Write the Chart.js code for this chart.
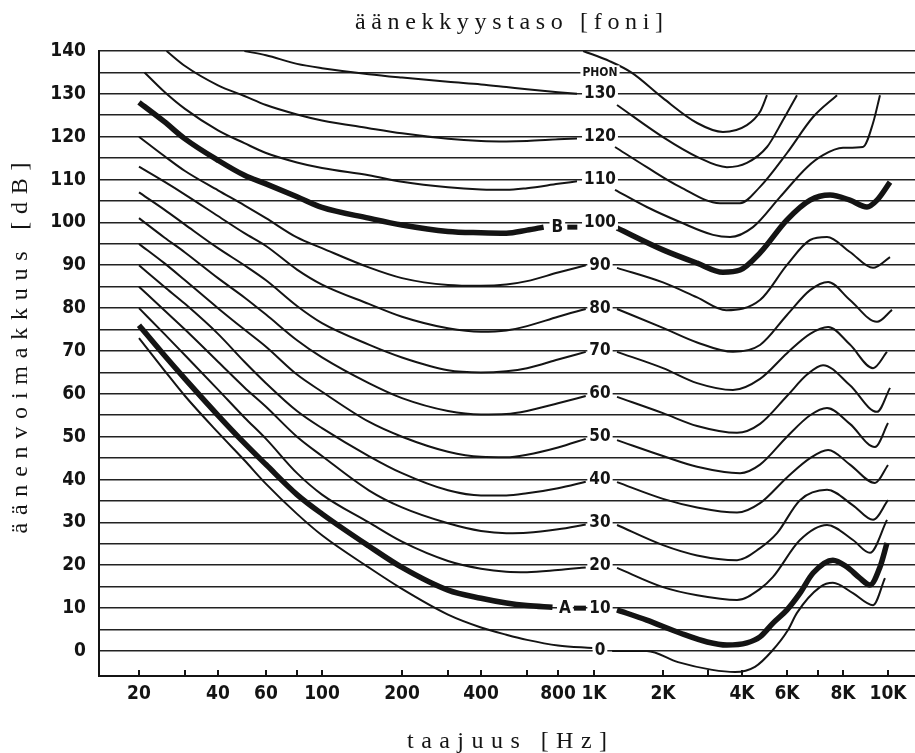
<!DOCTYPE html>
<html>
<head>
<meta charset="utf-8">
<script src="https://cdn.jsdelivr.net/npm/chart.js@4.4.1/dist/chart.umd.min.js"></script>
<style>
  html, body { margin: 0; padding: 0; background: #fff; }
  #wrap { width: 915px; height: 753px; }
</style>
</head>
<body>
<div id="wrap"><canvas id="graph" width="915" height="753"></canvas></div>
<script>
// printed frequency scale of the original drawing (not evenly logarithmic)
const CAL_HZ = [20, 30, 40, 60, 80, 100, 200, 300, 400, 600, 800, 1000, 2000, 3000, 4000, 6000, 7000, 8000, 10000];
const CAL_POS = [40, 86, 119, 167, 198, 223, 303, 349, 382, 428, 459, 495, 564, 609, 643, 688, 719, 744, 789];
const TICK_TEXT = ['20', '', '40', '60', '', '100', '200', '', '400', '', '800', '1K', '2K', '', '4K', '6K', '', '8K', '10K'];

const DB_TICKS = [0, 5, 10, 15, 20, 25, 30, 35, 40, 45, 50, 55, 60, 65, 70, 75, 80, 85, 90, 95, 100, 105, 110, 115, 120, 125, 130, 135, 140];
const PHON_LEVELS = [0, 10, 20, 30, 40, 50, 60, 70, 80, 90, 100, 110, 120, 130];

// [Hz, dB] ; [1100, null] splits the part left of the labels from the right part
const P0 = [[20, 73], [25, 65.5], [30, 59.5], [40, 51], [50, 44.5], [60, 39], [80, 32], [100, 27], [150, 19.5], [200, 14.5], [300, 8.5], [400, 5.5], [500, 3.8], [600, 2.6], [800, 1.3], [990, 0.7],
  [1100, null], [1200, 0], [1700, 0], [2290, -2.6], [3110, -4.4], [3770, -4.9], [4495, -3.7], [5240, 0], [6030, 4.9], [6305, 8.9], [7075, 14.9], [7580, 15.9], [8405, 13.5], [9285, 10.7], [9850, 17]];
const P10_A = [[20, 76], [25, 69], [30, 63.5], [40, 55], [50, 48.5], [60, 43.5], [80, 36.5], [100, 32], [150, 24.5], [200, 19.5], [300, 14.2], [400, 12.3], [500, 11.2], [600, 10.6], [760, 10.2],
  [1100, null], [1260, 9.6], [1700, 7.2], [2330, 4.2], [2980, 2.1], [3520, 1.4], [4180, 1.9], [4705, 3.3], [5290, 6.5], [6000, 9.6], [6400, 13.5], [6830, 18.2], [7580, 21.2], [8160, 19.6], [8700, 17], [9145, 15.4], [9610, 19.6], [9950, 25.2]];
const P20 = [[20, 80], [25, 74], [30, 69], [40, 61], [50, 54.5], [60, 49.5], [80, 41.5], [100, 36.5], [150, 30], [200, 25.5], [300, 21], [400, 19.2], [500, 18.5], [600, 18.4], [800, 18.9], [950, 19.5],
  [1100, null], [1260, 19.4], [2000, 14.9], [2720, 13], [3835, 11.9], [4705, 14.5], [5290, 17.3], [6400, 25.9], [7345, 29.4], [8405, 25.9], [9145, 22.9], [9950, 30.6]];
const P30 = [[20, 85], [25, 79.5], [30, 75], [40, 67.5], [50, 61.5], [60, 57], [80, 50], [100, 45.5], [150, 37.5], [200, 33.5], [300, 29.8], [400, 28], [500, 27.5], [600, 27.6], [800, 28.4], [950, 29.5],
  [1100, null], [1260, 29.4], [2000, 24.7], [2720, 22.3], [3835, 21.2], [4705, 24], [5485, 27.5], [6400, 35.2], [7345, 37.6], [8405, 34], [9285, 30.6], [10000, 35.2]];
const P40 = [[20, 90], [25, 85], [30, 81], [40, 74], [50, 67.5], [60, 62.5], [80, 56], [100, 52], [150, 45.5], [200, 41.5], [300, 37.5], [400, 36.3], [500, 36.3], [600, 36.8], [800, 38], [950, 39.5],
  [1100, null], [1260, 39.4], [2000, 35.5], [2720, 33.5], [3835, 32.3], [4705, 34.5], [6000, 40.5], [6730, 45], [7390, 46.9], [8280, 43.5], [9375, 39.2], [10000, 43.4]];
const P50 = [[20, 95], [25, 90.5], [30, 86.5], [40, 80], [50, 75], [60, 71], [80, 64.5], [100, 60.5], [150, 53.5], [200, 50], [300, 46.5], [400, 45.3], [500, 45.2], [600, 45.8], [800, 47.5], [950, 49.5],
  [1100, null], [1260, 49.2], [2000, 45.5], [2720, 43], [3935, 41.5], [4705, 43.5], [6000, 50], [6730, 55], [7345, 56.7], [8280, 53], [9375, 47.6], [10000, 53.2]];
const P60 = [[20, 101], [25, 96.5], [30, 93], [40, 87], [50, 82.5], [60, 78.5], [80, 72.5], [100, 68.5], [150, 62.5], [200, 59], [300, 56], [400, 55.2], [500, 55.3], [600, 56], [800, 57.8], [950, 59.5],
  [1100, null], [1260, 59.3], [2000, 55.5], [2720, 52.5], [3835, 50.9], [4705, 53], [6000, 59.5], [6630, 64.5], [7190, 66.7], [8280, 62], [9470, 55.8], [10100, 61.4]];
const P70 = [[20, 107], [25, 103], [30, 99.5], [40, 94], [50, 90], [60, 86.5], [80, 80.5], [100, 76.5], [150, 71.5], [200, 68.5], [300, 65.5], [400, 65], [500, 65.3], [600, 66], [800, 68], [950, 69.8],
  [1100, null], [1260, 69.8], [2000, 66], [2720, 62.5], [3705, 60.9], [4705, 63.5], [6000, 69.5], [6730, 74], [7390, 75.6], [8280, 71.5], [9285, 66], [9950, 69.8]];
const P80 = [[20, 113], [25, 109.5], [30, 106.5], [40, 101.5], [50, 97.5], [60, 94.5], [80, 89], [100, 85.5], [150, 81], [200, 78], [300, 75.3], [400, 74.5], [500, 74.8], [600, 75.8], [800, 78], [950, 79.8],
  [1100, null], [1260, 79.8], [2000, 75.4], [2720, 72], [3705, 69.8], [4705, 71.4], [6000, 78.4], [6730, 84.2], [7390, 86.1], [8280, 81.9], [9470, 76.8], [10200, 79.6]];
const P90 = [[20, 120], [25, 115.5], [30, 112], [40, 107.5], [50, 104], [60, 101], [80, 96.5], [100, 94], [150, 89.5], [200, 87], [300, 85.4], [400, 85.2], [500, 85.5], [600, 86.3], [800, 88.3], [950, 90],
  [1100, null], [1260, 89.4], [2000, 86], [2720, 82.5], [3500, 79.5], [4705, 81.9], [6000, 90.1], [6730, 95.9], [7345, 96.6], [8280, 93.1], [9285, 89.4], [10100, 91.9]];
const P100_B = [[20, 128], [25, 123.5], [30, 119.5], [40, 114.5], [50, 111], [60, 109], [80, 106], [100, 103.5], [150, 101], [200, 99.4], [300, 97.9], [400, 97.6], [500, 97.5], [600, 98.2], [700, 98.9],
  [1100, null], [1260, 98.7], [2000, 93.6], [2720, 90.5], [3405, 88.4], [3935, 88.9], [4705, 92.9], [6000, 100.6], [6730, 105.2], [7465, 106.4], [8280, 105.2], [9010, 103.6], [9470, 105.2], [10100, 109.4]];
const P110 = [[21, 135], [25, 130.5], [30, 126.5], [40, 121.5], [50, 118.5], [60, 116.2], [80, 114], [100, 112.7], [150, 111], [200, 109.5], [300, 108.2], [400, 107.7], [500, 107.6], [600, 108], [800, 109], [900, 109.6],
  [1100, null], [1235, 107.6], [1700, 103.6], [2330, 100.1], [3130, 97.1], [3615, 96.6], [4415, 98.9], [5630, 105.9], [6630, 112.9], [7190, 115.7], [8000, 117.4], [8830, 117.6], [9285, 123.2], [9610, 129.7]];
const P120 = [[25.5, 140], [30, 136.5], [40, 132], [50, 129.5], [60, 127.4], [80, 125.2], [100, 123.8], [150, 122], [200, 120.8], [300, 119.5], [400, 119], [500, 118.9], [600, 119], [800, 119.4], [900, 119.6],
  [1100, null], [1235, 117.6], [1700, 112.9], [2330, 108.3], [3320, 104.5], [3935, 104.5], [4705, 108.3], [6000, 116.2], [6830, 124.6], [7750, 129.7]];
const P130 = [[50, 140], [60, 139], [80, 137], [100, 136], [150, 134.6], [200, 133.8], [300, 132.8], [400, 132.2], [500, 131.6], [600, 131.1], [800, 130.4], [900, 130],
  [1100, null], [1260, 127.4], [2000, 119.9], [2720, 115.3], [3520, 112.9], [4180, 113.9], [5010, 117.6], [5790, 123.9], [6305, 129.7]];
const P140 = [[935, 140], [1174, 137.6], [1465, 134.9], [2000, 129], [2720, 123.2], [3405, 121.1], [4180, 122.7], [4705, 125.8], [5010, 129.7]];

const CURVES = [P0, P10_A, P20, P30, P40, P50, P60, P70, P80, P90, P100_B, P110, P120, P130, P140];
const THICK = [P10_A, P100_B];

function hzToPos(f) {
  let i = 0;
  while (i < CAL_HZ.length - 2 && f > CAL_HZ[i + 1]) i++;
  const t = Math.log(f / CAL_HZ[i]) / Math.log(CAL_HZ[i + 1] / CAL_HZ[i]);
  return CAL_POS[i] + t * (CAL_POS[i + 1] - CAL_POS[i]);
}

const INK = '#141414';
const NARROW = '"DejaVu Sans Condensed", "Liberation Sans Narrow", sans-serif';
const SERIF = '"Liberation Serif", "DejaVu Serif", serif';

function spacedText(ctx, text, cx, cy, width) {
  ctx.letterSpacing = '0px';
  const w = ctx.measureText(text).width;
  const ls = (width - w) / (text.length - 1);
  ctx.letterSpacing = ls + 'px';
  ctx.textAlign = 'left';
  ctx.fillText(text, cx - width / 2, cy);
  ctx.letterSpacing = '0px';
}

function labelBox(ctx, text, x, y) {
  const w = ctx.measureText(text).width;
  ctx.fillStyle = '#fff';
  ctx.fillRect(x - w / 2 - 2, y - 7, w + 4, 14);
  ctx.fillStyle = INK;
  ctx.fillText(text, x, y);
}

const decorations = {
  id: 'decorations',
  afterDatasetsDraw(chart) {
    const ctx = chart.ctx;
    const xs = chart.scales.x, ys = chart.scales.y;
    ctx.save();
    // tick marks pointing up from the frequency axis
    ctx.strokeStyle = INK;
    ctx.lineWidth = 2;
    CAL_POS.forEach(v => {
      const px = Math.round(xs.getPixelForValue(v));
      ctx.beginPath();
      ctx.moveTo(px, ys.bottom);
      ctx.lineTo(px, ys.bottom - 6);
      ctx.stroke();
    });
    // phon labels
    const lx = xs.getPixelForValue(hzToPos(1062));
    ctx.textBaseline = 'middle';
    ctx.textAlign = 'center';
    ctx.font = 'bold 17px ' + NARROW;
    PHON_LEVELS.forEach(v => labelBox(ctx, String(v), lx, ys.getPixelForValue(v)));
    ctx.font = 'bold 12px ' + NARROW;
    labelBox(ctx, 'PHON', lx, ys.getPixelForValue(135));
    ctx.font = 'bold 17px ' + NARROW;
    const ax = xs.getPixelForValue(hzToPos(835)), ay = ys.getPixelForValue(10);
    labelBox(ctx, 'A', ax, ay);
    ctx.fillRect(ax + 9, ay - 2.5, 12, 5);
    const bx = xs.getPixelForValue(hzToPos(795)), by = ys.getPixelForValue(98.9);
    labelBox(ctx, 'B', bx, by);
    ctx.fillRect(bx + 10, by - 2.5, 10, 5);
    // titles
    ctx.fillStyle = INK;
    ctx.textBaseline = 'alphabetic';
    ctx.font = '24px ' + SERIF;
    spacedText(ctx, 'äänekkyystaso [foni]', 509, 29, 308);
    spacedText(ctx, 'taajuus [Hz]', 507, 748, 200);
    ctx.translate(27, 348);
    ctx.rotate(-Math.PI / 2);
    spacedText(ctx, 'äänenvoimakkuus [dB]', 0, 0, 371);
    ctx.restore();
  }
};

new Chart(document.getElementById('graph'), {
  type: 'line',
  data: {
    datasets: CURVES.map(c => ({
      data: c.map(([f, db]) => ({ x: hzToPos(f), y: db })),
      borderColor: INK,
      borderWidth: THICK.includes(c) ? 5.5 : 2,
      pointRadius: 0,
      cubicInterpolationMode: 'monotone',
      spanGaps: false,
      fill: false
    }))
  },
  options: {
    responsive: false,
    animation: false,
    layout: { padding: { top: 51, right: 0, left: 0, bottom: 0 } },
    plugins: { legend: { display: false }, tooltip: { enabled: false } },
    scales: {
      x: {
        type: 'linear',
        min: 0,
        max: 816,
        afterBuildTicks: s => { s.ticks = CAL_POS.map(v => ({ value: v })); },
        afterFit: s => { s.height = 77; },
        grid: { display: false, drawTicks: false },
        border: { display: true, color: INK, width: 2 },
        ticks: {
          autoSkip: false,
          maxRotation: 0,
          padding: 7,
          color: INK,
          font: { family: NARROW, size: 19, weight: 'bold' },
          callback: (v, i) => TICK_TEXT[i]
        }
      },
      y: {
        type: 'linear',
        min: -5.83,
        max: 140,
        afterBuildTicks: s => { s.ticks = DB_TICKS.map(v => ({ value: v })); },
        afterFit: s => { s.width = 99; },
        grid: { color: '#222', lineWidth: 1.6, drawTicks: false },
        border: { display: true, color: INK, width: 2 },
        ticks: {
          autoSkip: false,
          padding: 13,
          color: INK,
          font: { family: NARROW, size: 19, weight: 'bold' },
          callback: v => (v % 10 === 0 ? String(v) : '')
        }
      }
    }
  },
  plugins: [decorations]
});
</script>
</body>
</html>
